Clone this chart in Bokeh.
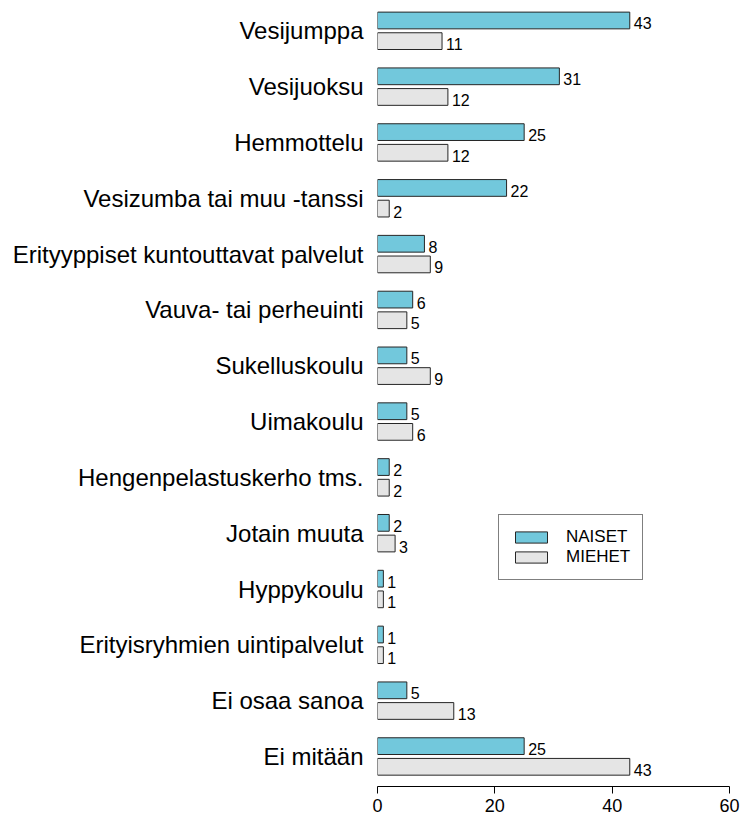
from bokeh.plotting import figure
from bokeh.models import ColumnDataSource, FixedTicker, Range1d, Legend, LegendItem
from bokeh.embed import file_html
from bokeh.resources import INLINE
from bokeh.core.properties import value

categories = ["Vesijumppa", "Vesijuoksu", "Hemmottelu", "Vesizumba tai muu -tanssi",
              "Erityyppiset kuntouttavat palvelut", "Vauva- tai perheuinti", "Sukelluskoulu",
              "Uimakoulu", "Hengenpelastuskerho tms.", "Jotain muuta", "Hyppykoulu",
              "Erityisryhmien uintipalvelut", "Ei osaa sanoa", "Ei mitään"]
naiset = [43, 31, 25, 22, 8, 6, 5, 5, 2, 2, 1, 1, 5, 25]
miehet = [11, 12, 12, 2, 9, 5, 9, 6, 2, 3, 1, 1, 13, 43]
x_ticks = [0, 20, 40, 60]

FONT = "Liberation Sans"
n = len(categories)
pos = [n - 1 - i for i in range(n)]
off = 0.185
bh = 0.3

src_n = ColumnDataSource(dict(y=[p + off for p in pos], v=naiset, t=[str(v) for v in naiset]))
src_m = ColumnDataSource(dict(y=[p - off for p in pos], v=miehet, t=[str(v) for v in miehet]))

p = figure(width=741, height=819, output_backend="svg", toolbar_location=None,
           x_range=Range1d(0, 60), y_range=Range1d(-0.538, n - 1 + 0.543),
           min_border_left=377, min_border_right=12, min_border_top=0, min_border_bottom=33)
p.outline_line_color = None
p.xgrid.grid_line_color = None
p.ygrid.grid_line_color = None
p.background_fill_color = "white"

rn = p.hbar(y="y", right="v", left=0, height=bh, source=src_n,
            fill_color="#72C8DC", line_color="#262626", line_width=1)
rm = p.hbar(y="y", right="v", left=0, height=bh, source=src_m,
            fill_color="#E5E5E5", line_color="#262626", line_width=1)

for s in (src_n, src_m):
    p.text(x="v", y="y", text="t", source=s, x_offset=4, y_offset=3,
           text_font=value(FONT), text_font_size="16px", text_color="black",
           text_baseline="middle", text_align="left")

xa = p.xaxis[0]
xa.ticker = FixedTicker(ticks=x_ticks)
xa.minor_tick_line_color = None
xa.major_tick_out = 7
xa.major_tick_in = 0
xa.axis_line_color = "black"
xa.major_tick_line_color = "black"
xa.major_label_text_font = FONT
xa.major_label_text_font_size = "18px"
xa.major_label_text_color = "black"
xa.major_label_standoff = 5

ya = p.yaxis[0]
ya.ticker = FixedTicker(ticks=pos)
ya.major_label_overrides = {p_: c for p_, c in zip(pos, categories)}
ya.axis_line_color = None
ya.major_tick_line_color = None
ya.minor_tick_line_color = None
ya.major_tick_out = 0
ya.major_tick_in = 0
ya.major_label_standoff = 14
ya.major_label_text_font = FONT
ya.major_label_text_font_size = "24px"
ya.major_label_text_color = "black"

legend = Legend(items=[LegendItem(label="NAISET", renderers=[rn]),
                       LegendItem(label="MIEHET", renderers=[rm])],
                location=(121, 206), margin=0, padding=12, spacing=0,
                glyph_width=40, glyph_height=14, label_standoff=15,
                label_text_font=FONT, label_text_font_size="17px",
                label_text_color="black", label_height=14,
                border_line_color="black", border_line_width=1,
                background_fill_color="white", background_fill_alpha=1)
p.add_layout(legend)

open("out.html", "w").write(file_html(p, INLINE))
